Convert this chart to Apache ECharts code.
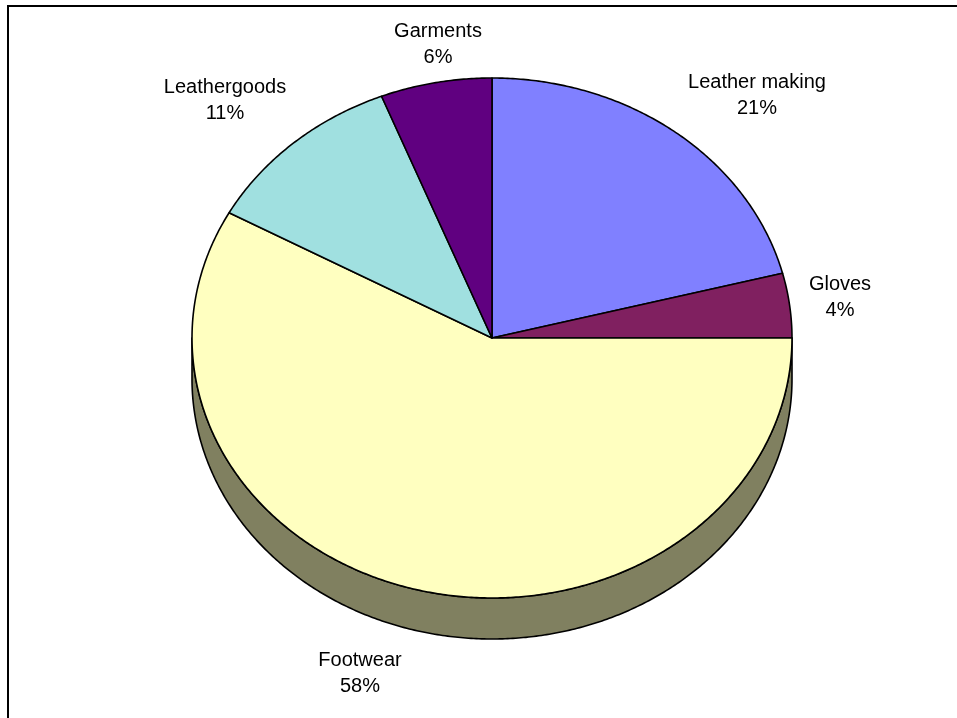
<!DOCTYPE html>
<html>
<head>
<meta charset="utf-8">
<script src="https://cdn.jsdelivr.net/npm/echarts@6/dist/echarts.min.js"></script>
<style>
  html, body { margin: 0; padding: 0; background: #fff; }
  #chart { width: 957px; height: 718px; }
</style>
</head>
<body>
<div id="chart"></div>
<script>
// Share of the leather sector by product group (percent)
const categories = ['Leather making', 'Gloves', 'Footwear', 'Leathergoods', 'Garments'];
const shares = [21, 4, 58, 11, 6];

// Slice colours (top faces) and their shaded wall colours
const faceColors = ['#8080FF', '#802060', '#FFFFC0', '#A0E0E0', '#600080'];
const sideColors = ['#404080', '#401030', '#808060', '#507070', '#300040'];

// Label block centres for each slice
const labelCenters = [[757, 95], [840, 297], [360, 673], [225, 100], [438, 44]];

// Tilted-pie geometry
const PIE = { cx: 492, cy: 338, rx: 300, ry: 260, depth: 41 };

const total = shares.reduce((a, b) => a + b, 0);
const starts = [];
shares.reduce((acc, v, i) => { starts[i] = acc; return acc + v; }, 0);

function pt(deg, dy) {
  const r = deg * Math.PI / 180;
  return [PIE.cx + PIE.rx * Math.sin(r), PIE.cy - PIE.ry * Math.cos(r) + (dy || 0)];
}
function arc(a0, a1, dy) {
  const pts = [];
  const n = Math.max(2, Math.ceil(Math.abs(a1 - a0) / 0.5));
  for (let k = 0; k <= n; k++) pts.push(pt(a0 + (a1 - a0) * k / n, dy));
  return pts;
}
function sliceAngles(idx, val) {
  const a0 = starts[idx] / total * 360;
  return [a0, a0 + val / total * 360];
}

const seriesData = shares.map((v, i) => ({ value: [v], name: categories[i] }));

const chart = echarts.init(document.getElementById('chart'), null, { renderer: 'canvas' });

chart.setOption({
  animation: false,
  backgroundColor: '#ffffff',
  series: [
    {
      // outer wall of the pie (front half only)
      type: 'custom',
      coordinateSystem: 'none',
      silent: true,
      z: 1,
      data: seriesData,
      renderItem: function (params, api) {
        const i = params.dataIndex;
        const [a0, a1] = sliceAngles(i, api.value(0));
        const s = Math.max(a0, 90), e = Math.min(a1, 270);
        if (e <= s) return null;
        const top = arc(s, e, 0);
        const bottom = arc(e, s, PIE.depth);
        return {
          type: 'polygon',
          shape: { points: top.concat(bottom) },
          style: { fill: sideColors[i], stroke: '#000', lineWidth: 1.6, lineJoin: 'round' }
        };
      }
    },
    {
      // top faces of the slices
      type: 'custom',
      coordinateSystem: 'none',
      silent: true,
      z: 2,
      data: seriesData,
      renderItem: function (params, api) {
        const i = params.dataIndex;
        const [a0, a1] = sliceAngles(i, api.value(0));
        const pts = [[PIE.cx, PIE.cy]].concat(arc(a0, a1, 0));
        return {
          type: 'polygon',
          shape: { points: pts },
          style: { fill: faceColors[i], stroke: '#000', lineWidth: 1.6, lineJoin: 'round' }
        };
      }
    }
  ],
  graphic: [
    {
      type: 'rect',
      silent: true,
      shape: { x: 8, y: 6, width: 1000, height: 800 },
      style: { fill: 'none', stroke: '#000', lineWidth: 2 },
      z: 10
    }
  ].concat(categories.map((name, i) => ({
    type: 'text',
    silent: true,
    x: labelCenters[i][0],
    y: labelCenters[i][1],
    z: 10,
    style: {
      text: name + '\n' + Math.round(shares[i] / total * 100) + '%',
      fontFamily: '"Liberation Sans", Arial, sans-serif',
      fontSize: 20,
      lineHeight: 26,
      fill: '#000',
      align: 'center',
      verticalAlign: 'middle'
    }
  })))
});
</script>
</body>
</html>
